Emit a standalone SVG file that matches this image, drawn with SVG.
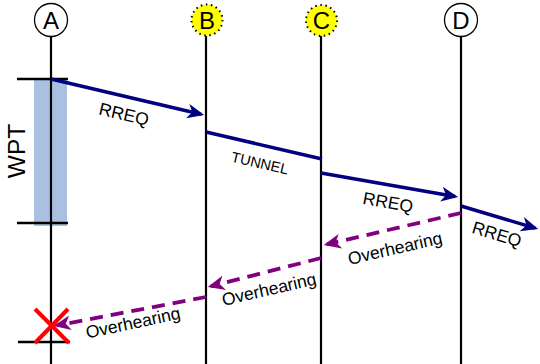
<svg xmlns="http://www.w3.org/2000/svg" width="540" height="364" viewBox="0 0 540 364">
  <style>
    .life { stroke: #000; stroke-width: 2.2; fill: none; }
    .tick { stroke: #000; stroke-width: 2.5; fill: none; }
    .node { fill: #fff; stroke: #000; stroke-width: 1.3; }
    .relay { fill: #ffff00; stroke: #000; stroke-width: 2; stroke-dasharray: 1.5 3.6; }
    .nlabel { font-family: "Liberation Sans", Arial, sans-serif; font-size: 24px; text-anchor: middle; fill: #000; }
    .msg { stroke: #000080; stroke-width: 3.5; fill: none; }
    .over { stroke: #800080; stroke-width: 3.8; fill: none; stroke-dasharray: 13 8; }
    .lbl { font-family: "Liberation Sans", Arial, sans-serif; font-size: 17.5px; text-anchor: middle; fill: #000; }
  </style>
  <defs>
    <marker id="headBlue" viewBox="0 0 16 14" refX="13" refY="7" markerWidth="17" markerHeight="15" markerUnits="userSpaceOnUse" orient="auto">
      <path d="M0,0 L16,7 L0,14 L4.5,7 Z" fill="#000080"/>
    </marker>
    <marker id="headPurple" viewBox="0 0 16 14" refX="13" refY="7" markerWidth="17" markerHeight="15" markerUnits="userSpaceOnUse" orient="auto">
      <path d="M0,0 L16,7 L0,14 L4.5,7 Z" fill="#800080"/>
    </marker>
  </defs>

  <!-- WPT window on A -->
  <rect x="34" y="79" width="33" height="147" fill="#aac0e0"/>
  <text class="lbl" transform="translate(16,151) rotate(-90)" y="8.8" style="font-size:24.5px">WPT</text>

  <!-- nodes with lifelines -->
  <g id="node-A">
    <line class="life" x1="51" y1="37" x2="51" y2="364"/>
    <circle class="node" cx="51" cy="20" r="16.5"/>
    <text class="nlabel" x="51" y="28.6">A</text>
  </g>
  <g id="node-B">
    <line class="life" x1="206" y1="36" x2="206" y2="364"/>
    <circle class="relay" cx="207" cy="20" r="15.5"/>
    <text class="nlabel" x="207" y="28.6">B</text>
  </g>
  <g id="node-C">
    <line class="life" x1="321" y1="36" x2="321" y2="364"/>
    <circle class="relay" cx="321.5" cy="20.5" r="15.5"/>
    <text class="nlabel" x="321.5" y="29">C</text>
  </g>
  <g id="node-D">
    <line class="life" x1="461" y1="37" x2="461" y2="364"/>
    <circle class="node" cx="461" cy="20" r="16.5"/>
    <text class="nlabel" x="461" y="28.6">D</text>
  </g>

  <!-- time marks on A -->
  <line class="tick" x1="17" y1="79" x2="68" y2="79"/>
  <line class="tick" x1="17" y1="223" x2="68" y2="223"/>
  <line class="tick" x1="18" y1="342" x2="70" y2="342"/>

  <!-- failed node mark -->
  <g id="fail-mark" stroke="#ff0000" stroke-width="4">
    <line x1="35" y1="309" x2="69" y2="343"/>
    <line x1="68" y1="309" x2="35" y2="343"/>
  </g>

  <g id="connectors">
    <line class="msg" x1="51" y1="79" x2="201.1" y2="114.3" marker-end="url(#headBlue)"/>
    <line class="msg" x1="206" y1="132" x2="322" y2="159"/>
    <line class="msg" x1="321" y1="173" x2="455" y2="196.5" marker-end="url(#headBlue)"/>
    <line class="msg" x1="461" y1="206" x2="535.1" y2="228.1" marker-end="url(#headBlue)"/>
    <line class="over" x1="461" y1="213" x2="326.9" y2="244.3" marker-end="url(#headPurple)"/>
    <line class="over" x1="321" y1="258" x2="210.9" y2="286.3" marker-end="url(#headPurple)"/>
    <line class="over" x1="206" y1="297" x2="56.9" y2="325.4" marker-end="url(#headPurple)"/>
  </g>

  <!-- message labels -->
  <text class="lbl" transform="translate(124,114) rotate(13.2)" y="6.2">RREQ</text>
  <text class="lbl" transform="translate(260,163) rotate(13)" y="5.2" style="font-size:14.5px">TUNNEL</text>
  <text class="lbl" transform="translate(388,202) rotate(10)" y="6.2">RREQ</text>
  <text class="lbl" transform="translate(497,234) rotate(17)" y="6.2">RREQ</text>
  <text class="lbl" transform="translate(395,248) rotate(-13)" y="6.2">Overhearing</text>
  <text class="lbl" transform="translate(269,289) rotate(-13)" y="6.2">Overhearing</text>
  <text class="lbl" transform="translate(133,322.5) rotate(-12)" y="6.2">Overhearing</text>
</svg>
